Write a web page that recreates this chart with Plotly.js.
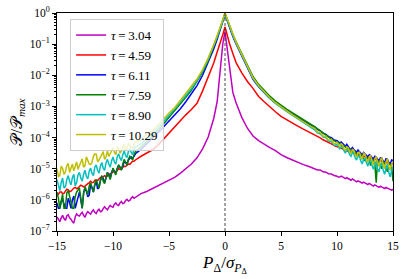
<!DOCTYPE html>
<html>
<head>
<meta charset="utf-8">
<script src="https://cdn.plot.ly/plotly-3.0.1.min.js"></script>
<style>html,body{margin:0;padding:0;background:#fff;}#chart{width:407px;height:279px;}</style>
</head>
<body>
<div id="chart"></div>
<script>
// x positions (P_Delta / sigma)
const xVals = [
  -15,-14.875,-14.75,-14.625,-14.5,-14.375,-14.25,-14.125,-14,-13.875,-13.75,-13.625,-13.5,-13.375,-13.25,-13.125,-13,-12.875,-12.75,-12.625,-12.5,-12.375,-12.25,-12.125,-12,-11.875,-11.75,-11.625,-11.5,-11.375,-11.25,-11.125,-11,-10.875,-10.75,-10.625,-10.5,-10.375,-10.25,-10.125,-10,-9.875,-9.75,-9.625,-9.5,-9.375,-9.25,-9.125,-9,-8.875,-8.75,-8.625,-8.5,-8.375,-8.25,-8.125,-8,
  -7.5,-7,-6.5,-6,-5.5,-5,-4.5,-4,-3.5,-3,
  -2.5,-2,-1.5,-1,-0.7,-0.4,-0.2,0,0.2,0.4,0.7,1,1.5,2,2.5,
  3,3.5,4,4.5,5,5.5,6,6.5,7,7.5,
  8,8.25,8.5,8.75,9,9.25,9.5,9.75,
  10,10.125,10.25,10.375,10.5,10.625,10.75,10.875,11,11.125,11.25,11.375,11.5,11.625,11.75,11.875,12,12.125,12.25,12.375,12.5,12.625,12.75,12.875,13,13.125,13.25,13.375,13.5,13.625,13.75,13.875,14,14.125,14.25,14.375,14.5,14.625,14.75,14.875,15
];

const tauLabels = ["3.04", "4.59", "6.11", "7.59", "8.90", "10.29"];
const colors = ["#bf00bf", "#ff0000", "#0000ff", "#008000", "#00bfbf", "#bfbf00"];

// log10(P/Pmax)
const logTau304 = [
  -6.55,-6.62,-6.70,-6.58,-6.50,-6.60,-6.66,-6.52,-6.48,-6.58,-6.62,-6.70,-6.75,-6.55,-6.45,-6.50,-6.52,-6.45,-6.40,-6.50,-6.56,-6.44,-6.38,-6.42,-6.46,-6.38,-6.32,-6.40,-6.44,-6.35,-6.30,-6.38,-6.36,-6.28,-6.22,-6.28,-6.32,-6.24,-6.18,-6.22,-6.24,-6.14,-6.10,-6.16,-6.18,-6.10,-6.05,-6.12,-6.10,-6.02,-5.98,-6.04,-6.02,-5.95,-5.90,-5.95,-5.92,
  -5.80,-5.73,-5.64,-5.57,-5.48,-5.38,-5.28,-5.15,-5.00,-4.85,
  -4.65,-4.36,-3.98,-3.38,-2.85,-1.85,-1.00,-0.60,-1.20,-1.85,-2.55,-2.90,-3.35,-3.70,-3.95,
  -4.10,-4.22,-4.32,-4.42,-4.55,-4.64,-4.72,-4.80,-4.87,-4.93,
  -4.99,-5.04,-5.04,-5.10,-5.11,-5.16,-5.17,-5.22,
  -5.24,-5.27,-5.27,-5.24,-5.26,-5.30,-5.32,-5.29,-5.31,-5.35,-5.37,-5.33,-5.36,-5.39,-5.42,-5.39,-5.41,-5.44,-5.46,-5.43,-5.45,-5.48,-5.51,-5.47,-5.50,-5.53,-5.56,-5.52,-5.54,-5.57,-5.60,-5.56,-5.58,-5.62,-5.64,-5.60,-5.62,-5.65,-5.68,-5.69,-5.66
];
const logTau459 = [
  -5.80,-5.82,-5.75,-5.74,-5.80,-5.79,-5.72,-5.66,-5.68,-5.74,-5.72,-5.65,-5.62,-5.60,-5.64,-5.62,-5.58,-5.53,-5.55,-5.58,-5.56,-5.50,-5.48,-5.46,-5.40,-5.45,-5.44,-5.37,-5.36,-5.38,-5.33,-5.28,-5.30,-5.27,-5.22,-5.25,-5.24,-5.18,-5.16,-5.14,-5.08,-5.12,-5.10,-5.03,-5.00,-5.02,-4.98,-4.93,-4.92,-4.93,-4.88,-4.85,-4.86,-4.80,-4.76,-4.76,-4.72,
  -4.60,-4.50,-4.40,-4.25,-4.05,-3.85,-3.66,-3.46,-3.27,-3.10,
  -2.90,-2.50,-2.06,-1.60,-1.25,-0.95,-0.70,-0.45,-0.72,-0.98,-1.30,-1.60,-1.92,-2.20,-2.42,
  -2.68,-2.85,-3.02,-3.17,-3.32,-3.43,-3.53,-3.63,-3.73,-3.82,
  -3.90,-3.97,-4.01,-4.07,-4.11,-4.17,-4.20,-4.26,
  -4.29,-4.32,-4.34,-4.35,-4.36,-4.39,-4.41,-4.42,-4.43,-4.45,-4.47,-4.48,-4.49,-4.51,-4.53,-4.54,-4.55,-4.57,-4.59,-4.60,-4.61,-4.63,-4.64,-4.65,-4.66,-4.68,-4.70,-4.70,-4.71,-4.73,-4.74,-4.75,-4.76,-4.77,-4.79,-4.80,-4.80,-4.82,-4.84,-4.84,-4.85
];
const logTau611 = [
  -6.10,-6.27,-6.27,-6.05,-6.00,-6.15,-6.27,-6.27,-5.95,-6.08,-6.27,-6.00,-5.88,-6.27,-6.10,-5.92,-5.75,-6.00,-6.27,-5.78,-5.62,-5.72,-5.90,-5.85,-5.50,-5.60,-5.75,-5.52,-5.40,-5.65,-5.60,-5.38,-5.25,-5.32,-5.45,-5.30,-5.12,-5.20,-5.30,-5.12,-5.02,-5.08,-5.15,-5.00,-4.90,-4.95,-5.02,-4.92,-4.78,-4.80,-4.85,-4.72,-4.65,-4.62,-4.68,-4.58,-4.52,
  -4.38,-4.22,-4.03,-3.85,-3.66,-3.48,-3.30,-3.08,-2.85,-2.60,
  -2.33,-2.00,-1.60,-1.15,-0.84,-0.52,-0.28,-0.05,-0.25,-0.46,-0.75,-1.00,-1.39,-1.78,-2.13,
  -2.37,-2.56,-2.74,-2.89,-3.02,-3.14,-3.25,-3.36,-3.47,-3.57,
  -3.66,-3.74,-3.78,-3.86,-3.90,-3.97,-4.00,-4.08,
  -4.10,-4.16,-4.18,-4.14,-4.20,-4.26,-4.28,-4.22,-4.30,-4.36,-4.38,-4.32,-4.38,-4.44,-4.47,-4.40,-4.46,-4.52,-4.55,-4.48,-4.52,-4.58,-4.62,-4.55,-4.58,-4.64,-4.68,-4.60,-4.62,-4.70,-4.75,-4.65,-4.66,-4.76,-4.80,-4.68,-4.70,-4.80,-4.85,-4.72,-4.74
];
const logTau759 = [
  -5.75,-5.95,-6.27,-6.05,-5.82,-6.27,-6.27,-5.78,-5.70,-5.88,-6.05,-6.27,-6.27,-5.90,-5.75,-5.68,-5.62,-5.95,-6.27,-5.80,-5.58,-5.70,-5.85,-5.55,-5.45,-5.62,-5.75,-5.50,-5.35,-5.48,-5.62,-5.38,-5.22,-5.40,-5.48,-5.28,-5.12,-5.22,-5.35,-5.15,-4.98,-5.10,-5.20,-5.00,-4.88,-4.95,-5.05,-4.85,-4.70,-4.80,-4.88,-4.70,-4.60,-4.66,-4.72,-4.55,-4.45,
  -4.30,-4.14,-3.97,-3.78,-3.57,-3.36,-3.15,-2.93,-2.71,-2.48,
  -2.20,-1.90,-1.52,-1.08,-0.78,-0.47,-0.24,-0.01,-0.20,-0.41,-0.69,-0.93,-1.31,-1.69,-2.04,
  -2.29,-2.49,-2.67,-2.83,-2.97,-3.09,-3.20,-3.32,-3.43,-3.54,
  -3.65,-3.72,-3.80,-3.86,-3.92,-3.98,-4.05,-4.10,
  -4.16,-4.15,-4.20,-4.25,-4.28,-4.26,-4.30,-4.35,-4.38,-4.36,-4.42,-4.45,-4.50,-4.46,-4.52,-4.55,-4.62,-4.52,-4.60,-4.65,-4.75,-4.62,-4.68,-4.72,-4.90,-4.70,-4.72,-4.82,-5.45,-4.72,-4.78,-4.88,-5.00,-4.78,-4.80,-4.95,-5.10,-4.82,-4.85,-4.90,-5.40
];
const logTau890 = [
  -5.35,-5.55,-5.70,-5.45,-5.30,-5.62,-5.58,-5.35,-5.22,-5.40,-5.52,-5.28,-5.18,-5.55,-5.45,-5.20,-5.12,-5.30,-5.40,-5.18,-5.05,-5.25,-5.33,-5.08,-4.98,-5.15,-5.22,-4.95,-4.88,-5.05,-5.14,-4.92,-4.80,-4.98,-5.05,-4.82,-4.70,-4.85,-4.95,-4.75,-4.62,-4.78,-4.85,-4.62,-4.52,-4.66,-4.74,-4.55,-4.43,-4.58,-4.64,-4.45,-4.36,-4.48,-4.55,-4.38,-4.30,
  -4.20,-4.05,-3.88,-3.70,-3.50,-3.30,-3.09,-2.87,-2.65,-2.43,
  -2.16,-1.86,-1.48,-1.05,-0.76,-0.46,-0.24,-0.02,-0.22,-0.43,-0.72,-0.97,-1.36,-1.75,-2.10,
  -2.35,-2.55,-2.74,-2.90,-3.04,-3.16,-3.28,-3.40,-3.52,-3.63,
  -3.75,-3.85,-3.88,-3.98,-4.00,-4.12,-4.12,-4.25,
  -4.22,-4.30,-4.36,-4.28,-4.32,-4.42,-4.50,-4.38,-4.42,-4.55,-4.60,-4.48,-4.52,-4.65,-4.72,-4.58,-4.60,-4.75,-4.85,-4.70,-4.66,-4.80,-4.92,-4.76,-4.72,-4.90,-5.02,-4.85,-4.76,-5.00,-5.10,-4.90,-4.80,-5.05,-5.18,-5.00,-4.85,-5.12,-5.26,-5.05,-4.95
];
const logTau1029 = [
  -5.00,-5.25,-5.22,-4.92,-4.99,-5.18,-5.10,-4.90,-4.83,-5.12,-4.98,-4.85,-5.07,-4.95,-4.78,-5.02,-4.91,-4.75,-4.68,-4.95,-4.90,-4.62,-4.72,-4.85,-4.87,-4.80,-4.60,-4.52,-4.53,-4.78,-4.72,-4.62,-4.54,-4.45,-4.70,-4.62,-4.43,-4.60,-4.52,-4.40,-4.33,-4.48,-4.55,-4.30,-4.33,-4.50,-4.44,-4.28,-4.22,-4.40,-4.36,-4.18,-4.23,-4.32,-4.35,-4.20,-4.14,
  -4.08,-3.90,-3.80,-3.60,-3.43,-3.21,-3.04,-2.81,-2.60,-2.38,
  -2.12,-1.82,-1.45,-1.02,-0.74,-0.44,-0.22,0.00,-0.20,-0.41,-0.70,-0.95,-1.33,-1.72,-2.08,
  -2.33,-2.53,-2.72,-2.88,-3.02,-3.14,-3.26,-3.38,-3.50,-3.61,
  -3.70,-3.82,-3.83,-3.96,-3.95,-4.09,-4.05,-4.21,
  -4.15,-4.25,-4.31,-4.20,-4.24,-4.36,-4.42,-4.30,-4.33,-4.45,-4.52,-4.38,-4.41,-4.55,-4.63,-4.48,-4.47,-4.62,-4.71,-4.50,-4.53,-4.68,-4.80,-4.62,-4.57,-4.75,-4.88,-4.70,-4.60,-4.80,-4.93,-4.72,-4.64,-4.90,-5.00,-4.78,-4.68,-4.92,-5.05,-4.85,-4.76
];

const seriesLogs = [logTau304, logTau459, logTau611, logTau759, logTau890, logTau1029];

const yTickVals = [1e-7, 1e-6, 1e-5, 1e-4, 1e-3, 1e-2, 1e-1, 1];
const yTickText = ["10<sup>−7</sup>", "10<sup>−6</sup>", "10<sup>−5</sup>", "10<sup>−4</sup>", "10<sup>−3</sup>", "10<sup>−2</sup>", "10<sup>−1</sup>", "10<sup>0</sup>"];
const xTickVals = [-15, -10, -5, 0, 5, 10, 15];
const xTickText = ["−15", "−10", "−5", "0", "5", "10", "15"];

const serif = "Liberation Serif";

const traces = seriesLogs.map((arr, k) => ({
  type: 'scatter',
  mode: 'lines',
  x: xVals,
  y: arr.map(v => Math.pow(10, v)),
  name: '<i>τ</i>\u2009=\u2009' + tauLabels[k],
  line: {color: colors[k], width: 1.5},
  hoverinfo: 'skip'
}));

const layout = {
  width: 407, height: 279,
  margin: {l: 57, r: 14, t: 13, b: 48},
  paper_bgcolor: '#fff', plot_bgcolor: '#fff',
  showlegend: true,
  legend: {
    x: 0.039, y: 0.972, xanchor: 'left', yanchor: 'top',
    bgcolor: 'rgba(255,255,255,0.8)', bordercolor: '#cccccc', borderwidth: 1,
    font: {family: serif, size: 13, color: '#000'}
  },
  xaxis: {
    range: [-15, 15], showgrid: false, zeroline: false,
    showline: true, linecolor: '#000', linewidth: 1, mirror: true,
    ticks: 'outside', ticklen: 4, tickwidth: 1, tickcolor: '#000',
    tickmode: 'array', tickvals: xTickVals, ticktext: xTickText,
    tickfont: {family: serif, size: 11.5, color: '#000'},
    title: {text: '<i>P</i><sub>Δ</sub>/<i>σ</i><sub><i>P</i><sub>Δ</sub></sub>', font: {family: serif, size: 17, color: '#000'}, standoff: 5}
  },
  yaxis: {
    type: 'log', range: [-7, 0], showgrid: false, zeroline: false,
    showline: true, linecolor: '#000', linewidth: 1, mirror: true,
    ticks: 'outside', ticklen: 4, tickwidth: 1, tickcolor: '#000',
    tickmode: 'array', tickvals: yTickVals, ticktext: yTickText,
    tickfont: {family: serif, size: 11.5, color: '#000'},
    minor: {ticks: 'outside', ticklen: 2, tickcolor: '#000', dtick: 'D1', showgrid: false},
    title: {text: '𝒫/𝒫<sub><i>max</i></sub>', font: {family: serif, size: 16, color: '#000'}, standoff: 3}
  },
  shapes: [{
    type: 'line', xref: 'x', yref: 'paper', x0: 0, x1: 0, y0: 0, y1: 1,
    line: {color: '#333', width: 0.9, dash: '3px,2px'}, layer: 'above'
  }]
};

Plotly.newPlot('chart', traces, layout, {staticPlot: true, displayModeBar: false});
</script>
</body>
</html>
